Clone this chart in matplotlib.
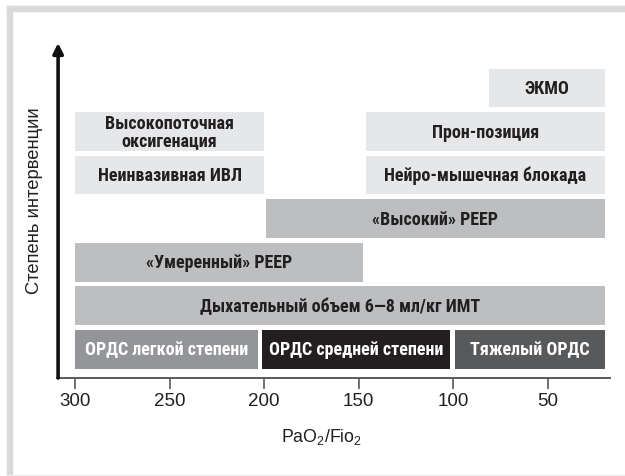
import matplotlib
matplotlib.use("Agg")
import matplotlib.pyplot as plt
from matplotlib.patches import Rectangle

plt.rcParams['font.family'] = ['Liberation Sans', 'DejaVu Sans']
plt.rcParams['mathtext.fontset'] = 'custom'
plt.rcParams['mathtext.rm'] = 'Liberation Sans'

# ---- data ----
labels = ["ОРДС легкой степени", "ОРДС средней степени", "Тяжелый ОРДС",
          "Дыхательный объем 6—8 мл/кг ИМТ",
          "«Умеренный» PEEP", "«Высокий» PEEP",
          "Неинвазивная ИВЛ", "Нейро-мышечная блокада",
          "Высокопоточная\nоксигенация", "Прон-позиция", "ЭКМО"]
starts = [300, 201, 99, 300, 300, 199, 300, 146, 300, 146, 81]
ends = [203, 102, 20, 20, 148, 20, 200, 20, 200, 20, 20]
levels = [0, 0, 0, 1, 2, 3, 4, 4, 5, 5, 6]
fills = ["#939598", "#231f20", "#58595b", "#bcbec0", "#bcbec0", "#bcbec0",
         "#e6e7e8", "#e6e7e8", "#e6e7e8", "#e6e7e8", "#e6e7e8"]
text_colors = ["white", "white", "white"] + ["#231f20"] * 8
xticks = [300, 250, 200, 150, 100, 50]
xlabel = r"PaO$_\mathregular{2}$/Fio$_\mathregular{2}$"
ylabel = "Степень интервенции"

W, H = 625, 477
fig = plt.figure(figsize=(W / 100, H / 100), dpi=100)

# frame (top and left bands)
fig.patches.append(Rectangle((7 / W, 1 - 12 / H), 1 - 7 / W, 5 / H,
                             transform=fig.transFigure, color="#d9dadb", zorder=0))
fig.patches.append(Rectangle((7 / W, 1 - 476 / H), 5 / W, (476 - 7) / H,
                             transform=fig.transFigure, color="#d9dadb", zorder=0))
fig.patches.append(Rectangle((7 / W, 0), 1 - 7 / W, 1.2 / H,
                             transform=fig.transFigure, color="#ececec", zorder=0))

ax = fig.add_axes([57 / W, 1 - 379 / H, 553 / W, 335 / H])
ax.set_xlim(309.5, 17.2)
ax.set_ylim(-0.654, 7.03)

bar_h = 0.89
for lab, s, e, lv, fc, tc in zip(labels, starts, ends, levels, fills, text_colors):
    ax.barh(lv, e - s, left=s, height=bar_h, color=fc, edgecolor="none", zorder=2)
    ax.text((s + e) / 2, lv, lab, ha="center", va="center", color=tc,
            fontsize=13, fontweight="bold", linespacing=0.92,
            family=['Roboto Condensed', 'PT Sans Narrow', 'DejaVu Sans'],
            zorder=3)

for sp in ["top", "right", "left"]:
    ax.spines[sp].set_visible(False)
ax.spines["bottom"].set_color("#58595b")
ax.spines["bottom"].set_linewidth(1.4)

ax.set_xticks(xticks)
ax.set_xticklabels([str(t) for t in xticks])
ax.tick_params(axis="x", direction="out", length=8, width=1.2, color="#58595b",
               labelsize=13.5, labelcolor="#231f20", pad=2)
ax.set_yticks([])

# vertical arrow
ax.annotate("", xy=(0.002, 1.0), xytext=(0.002, 0.0), xycoords="axes fraction",
            arrowprops=dict(arrowstyle="-|>,head_length=0.6,head_width=0.3",
                            color="#111111", lw=2.6, shrinkA=0, shrinkB=0))

ax.set_xlabel(xlabel, fontsize=12.8, color="#231f20")
ax.xaxis.set_label_coords((322 - 57) / 553, -(437 - 379) / 335)
ax.xaxis.label.set_va("center")
ax.set_ylabel(ylabel, fontsize=13.2, color="#231f20")
ax.yaxis.set_label_coords((35 - 57) / 553, (379 - 201) / 335)
ax.yaxis.label.set_va("center")

fig.savefig("out.png", dpi=100)
